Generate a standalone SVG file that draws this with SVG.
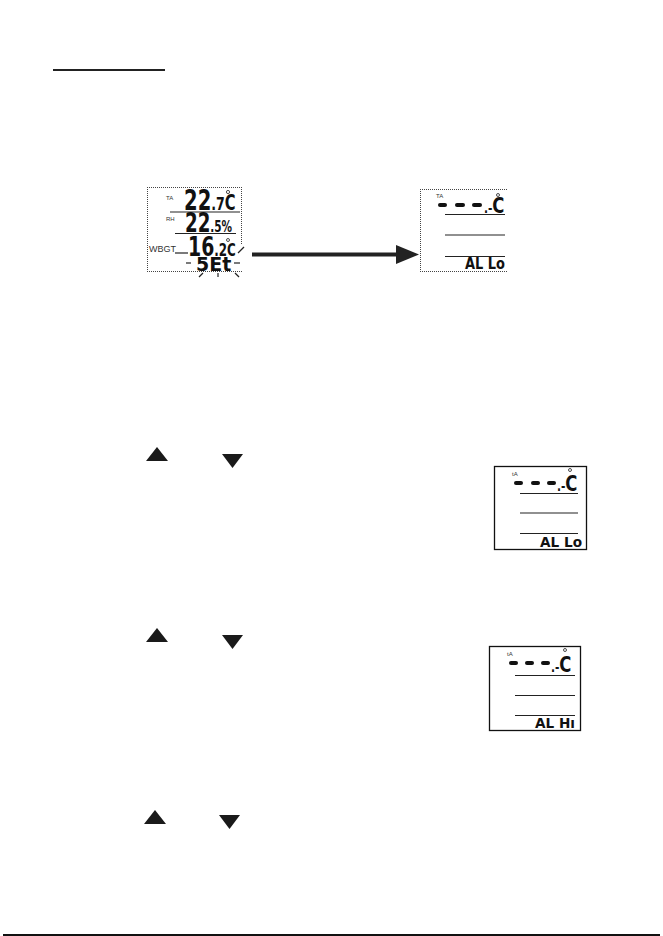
<svg xmlns="http://www.w3.org/2000/svg" width="663" height="936" viewBox="0 0 663 936">
<style>
.lbl{font-family:"Liberation Sans",Arial,sans-serif;fill:#333}
.seg{font-family:"DejaVu Sans","Liberation Sans",sans-serif;font-weight:bold;fill:#111}
.ln{stroke:#222;stroke-width:1.2;fill:none}
.dot{stroke:#444;stroke-width:1;stroke-dasharray:1 1;fill:none}
.box{stroke:#111;stroke-width:1.3;fill:none}
.tri{fill:#1a1a1a}
.deg{fill:none;stroke:#222;stroke-width:0.8}
.dash{fill:#111}
</style>
<defs>
<g id="up"><polygon points="0,14 11,0 22,14"/></g>
<g id="down"><polygon points="0,0 21,0 10.5,14"/></g>
</defs>
<rect width="663" height="936" fill="#fff"/>
<g id="title-underline"><line x1="53" y1="70" x2="165" y2="70" stroke="#222" stroke-width="2"/></g>

<g id="lcd-main">
<line class="dot" x1="147" y1="187.5" x2="242" y2="187.5"/>
<line class="dot" x1="147.5" y1="187" x2="147.5" y2="272"/>
<line class="dot" x1="147" y1="271.5" x2="242" y2="271.5"/>
<line class="dot" x1="241.5" y1="187" x2="241.5" y2="245"/>
<text class="lbl" x="166" y="200" font-size="6">TA</text>
<text class="seg" transform="translate(184,210) scale(0.7,1)"><tspan font-size="28">22</tspan><tspan font-size="18">.7</tspan><tspan font-size="21">C</tspan></text>
<circle class="deg" cx="228" cy="192" r="1.6"/>
<line class="ln" x1="170" y1="212" x2="240" y2="212"/>
<text class="lbl" x="166" y="221" font-size="6">RH</text>
<text class="seg" transform="translate(185,232) scale(0.7,1)"><tspan font-size="26">22</tspan><tspan font-size="15">.5</tspan><tspan font-size="15">%</tspan></text>
<line class="ln" x1="175" y1="233.5" x2="236" y2="233.5"/>
<text class="lbl" x="149" y="252" font-size="9">WBGT</text>
<line class="ln" x1="175" y1="253" x2="188" y2="253"/>
<text class="seg" transform="translate(188,256) scale(0.7,1)"><tspan font-size="27">16</tspan><tspan font-size="17">.2</tspan><tspan font-size="17">C</tspan></text>
<circle class="deg" cx="228" cy="240" r="1.5"/>
<line class="ln" x1="238" y1="253" x2="244" y2="247"/>
<line class="ln" x1="186" y1="263" x2="191" y2="263"/>
<text class="seg" x="196" y="271" font-size="19">5Et</text>
<line class="ln" x1="234" y1="263" x2="240" y2="263"/>
<line class="ln" x1="199" y1="277" x2="203" y2="273"/>
<line class="ln" x1="218" y1="273" x2="218" y2="277"/>
<line class="ln" x1="235" y1="273" x2="239" y2="277"/>
</g>

<g id="connectors">
<line x1="252" y1="254.5" x2="398" y2="254.5" stroke="#222" stroke-width="4"/>
<polygon points="396,245 419,254.5 396,264" fill="#222"/>
</g>

<g id="lcd-allo-1">
<line class="dot" x1="420" y1="189.5" x2="508" y2="189.5"/>
<line class="dot" x1="420.5" y1="189" x2="420.5" y2="272"/>
<line class="dot" x1="420" y1="271.5" x2="508" y2="271.5"/>
<text class="lbl" x="436" y="198" font-size="6">TA</text>
<rect class="dash" x="438" y="203" width="9" height="4" rx="2"/>
<rect class="dash" x="455" y="203" width="10" height="4" rx="2"/>
<rect class="dash" x="472" y="203" width="10" height="4" rx="2"/>
<text class="seg" transform="translate(484,213) scale(0.75,1)"><tspan font-size="14">.-</tspan><tspan font-size="22">C</tspan></text>
<circle class="deg" cx="498" cy="195" r="1.5"/>
<line class="ln" x1="445" y1="214.5" x2="505" y2="214.5"/>
<line class="ln" x1="445" y1="235" x2="505" y2="235"/>
<line class="ln" x1="445" y1="256.5" x2="505" y2="256.5"/>
<text class="seg" x="465" y="269" font-size="15" textLength="40" lengthAdjust="spacingAndGlyphs">AL Lo</text>
</g>

<g id="arrows-1">
<use href="#up" class="tri" x="146" y="447"/>
<use href="#down" class="tri" x="222" y="454"/>
</g>

<g id="lcd-allo-2">
<rect class="box" x="494.5" y="466.5" width="92" height="83"/>
<text class="lbl" x="512" y="476" font-size="6">tA</text>
<rect class="dash" x="514" y="481" width="9" height="4" rx="2"/>
<rect class="dash" x="531" y="481" width="9" height="4" rx="2"/>
<rect class="dash" x="547" y="481" width="9" height="4" rx="2"/>
<text class="seg" transform="translate(557,491) scale(0.75,1)"><tspan font-size="14">.-</tspan><tspan font-size="22">C</tspan></text>
<circle class="deg" cx="570" cy="470" r="1.5"/>
<line class="ln" x1="520" y1="493.5" x2="578" y2="493.5"/>
<line class="ln" x1="520" y1="513" x2="578" y2="513"/>
<line class="ln" x1="520" y1="533.5" x2="578" y2="533.5"/>
<text class="seg" x="540" y="547" font-size="14" textLength="42" lengthAdjust="spacingAndGlyphs">AL Lo</text>
</g>

<g id="arrows-2">
<use href="#up" class="tri" x="146" y="628"/>
<use href="#down" class="tri" x="222" y="635"/>
</g>

<g id="lcd-alhi">
<rect class="box" x="489.5" y="646.5" width="91" height="84"/>
<text class="lbl" x="507" y="656" font-size="6">tA</text>
<rect class="dash" x="509" y="661" width="9" height="4" rx="2"/>
<rect class="dash" x="525" y="661" width="9" height="4" rx="2"/>
<rect class="dash" x="541" y="661" width="9" height="4" rx="2"/>
<text class="seg" transform="translate(551,672) scale(0.75,1)"><tspan font-size="14">.-</tspan><tspan font-size="22">C</tspan></text>
<circle class="deg" cx="565" cy="650" r="1.5"/>
<line class="ln" x1="515" y1="675.5" x2="575" y2="675.5"/>
<line class="ln" x1="515" y1="695.5" x2="575" y2="695.5"/>
<line class="ln" x1="515" y1="715.5" x2="575" y2="715.5"/>
<text class="seg" x="535" y="728" font-size="14" textLength="40" lengthAdjust="spacingAndGlyphs">AL Hı</text>
</g>

<g id="arrows-3">
<use href="#up" class="tri" x="144" y="810"/>
<use href="#down" class="tri" x="219" y="815"/>
</g>

<g id="bottom-rule"><line x1="3" y1="935" x2="660" y2="935" stroke="#111" stroke-width="2"/></g>
</svg>
